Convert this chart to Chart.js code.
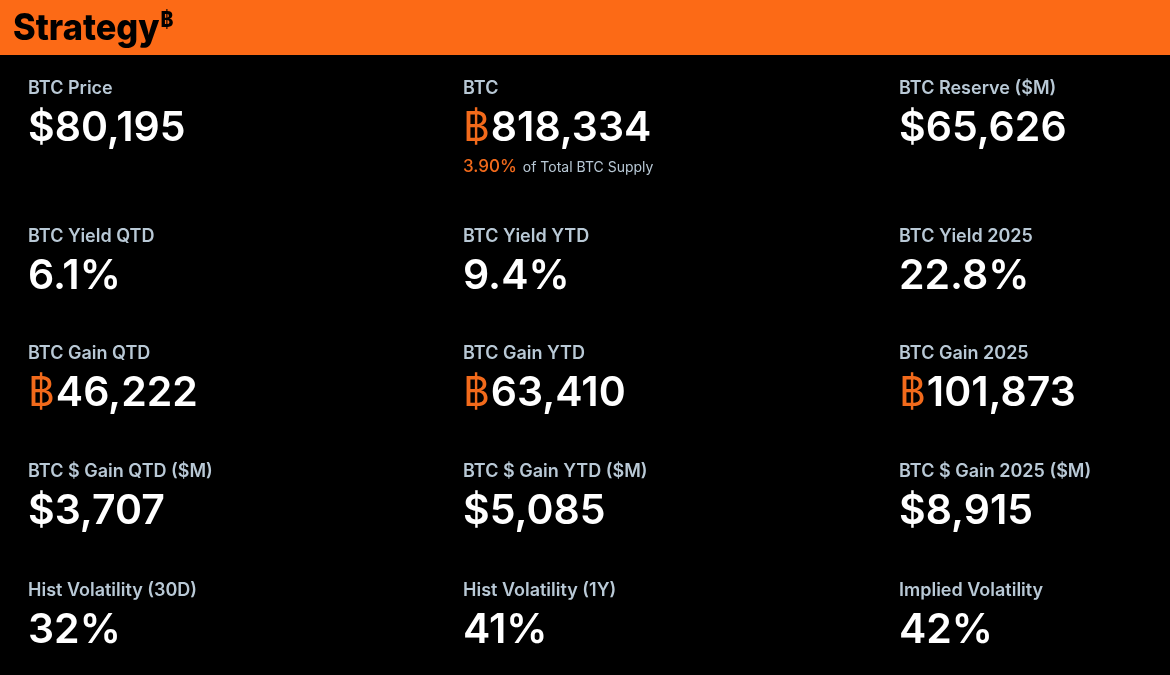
<!DOCTYPE html>
<html><head><meta charset="utf-8">
<script src="https://cdn.jsdelivr.net/npm/chart.js@4"></script>
<style>html,body{margin:0;padding:0;background:#000;overflow:hidden}</style>
</head><body>
<canvas id="c" width="1170" height="675"></canvas>
<script>
const labels = ["BTC Price","BTC","BTC Reserve ($M)","BTC Yield QTD","BTC Yield YTD","BTC Yield 2025","BTC Gain QTD","BTC Gain YTD","BTC Gain 2025","BTC $ Gain QTD ($M)","BTC $ Gain YTD ($M)","BTC $ Gain 2025 ($M)","Hist Volatility (30D)","Hist Volatility (1Y)","Implied Volatility"];
const values = ["$80,195","818,334","$65,626","6.1%","9.4%","22.8%","46,222","63,410","101,873","$3,707","$5,085","$8,915","32%","41%","42%"];
const btcPrefix = [false,true,false,false,false,false,true,true,true,false,false,false,false,false,false];
const supplyPct = "3.90%";
const supplyText = "of Total BTC Supply";
const title = "Strategy";

const ORANGE = "#f26a1b";
const colX = [28, 463, 899];
const rowLabelY = [89, 237, 354, 472, 591];
const valueOffset = 40;

const tiles = {
  id: 'tiles',
  afterDraw(chart) {
    const ctx = chart.ctx;
    ctx.save();
    ctx.fillStyle = "#fc6a16";
    ctx.fillRect(0, 0, 1170, 55);
    ctx.fillStyle = "#000";
    ctx.textBaseline = "alphabetic";
    ctx.font = "800 37px Inter";
    ctx.textAlign = "left";
    ctx.save();
    ctx.translate(13, 40);
    ctx.scale(0.93, 1);
    ctx.fillText(title, 0, 0);
    const tw = ctx.measureText(title).width;
    ctx.font = "800 21px Inter";
    ctx.fillText("\u0E3F", tw + 1, -13);
    ctx.restore();
    ctx.textBaseline = "middle";
    labels.forEach((lab, i) => {
      const x = colX[i % 3], y = rowLabelY[Math.floor(i / 3)];
      ctx.font = "600 18px Inter";
      ctx.fillStyle = "#b9c9d6";
      ctx.fillText(lab, x, y);
      ctx.font = "600 41px Inter";
      let vx = x;
      if (btcPrefix[i]) {
        ctx.fillStyle = ORANGE;
        ctx.font = "400 41px Inter";
        ctx.fillText("\u0E3F", vx, y + valueOffset);
        vx += ctx.measureText("\u0E3F").width + 1;
        ctx.font = "600 41px Inter";
      }
      ctx.fillStyle = "#fff";
      ctx.fillText(values[i], vx, y + valueOffset);
      if (i === 1) {
        ctx.font = "500 17px Inter";
        ctx.fillStyle = ORANGE;
        ctx.fillText(supplyPct, x, 167);
        const w = ctx.measureText(supplyPct).width;
        ctx.font = "400 14px Inter";
        ctx.fillStyle = "#b9c9d6";
        ctx.fillText(supplyText, x + w + 6, 168);
      }
    });
    ctx.restore();
  }
};

new Chart(document.getElementById('c'), {
  type: 'bar',
  data: { labels: labels, datasets: [{ data: [], label: 'tiles' }] },
  options: {
    responsive: false, animation: false, devicePixelRatio: 1,
    plugins: { legend: { display: false }, tooltip: { enabled: false } },
    scales: { x: { display: false }, y: { display: false } }
  },
  plugins: [tiles]
});
</script></body></html>
